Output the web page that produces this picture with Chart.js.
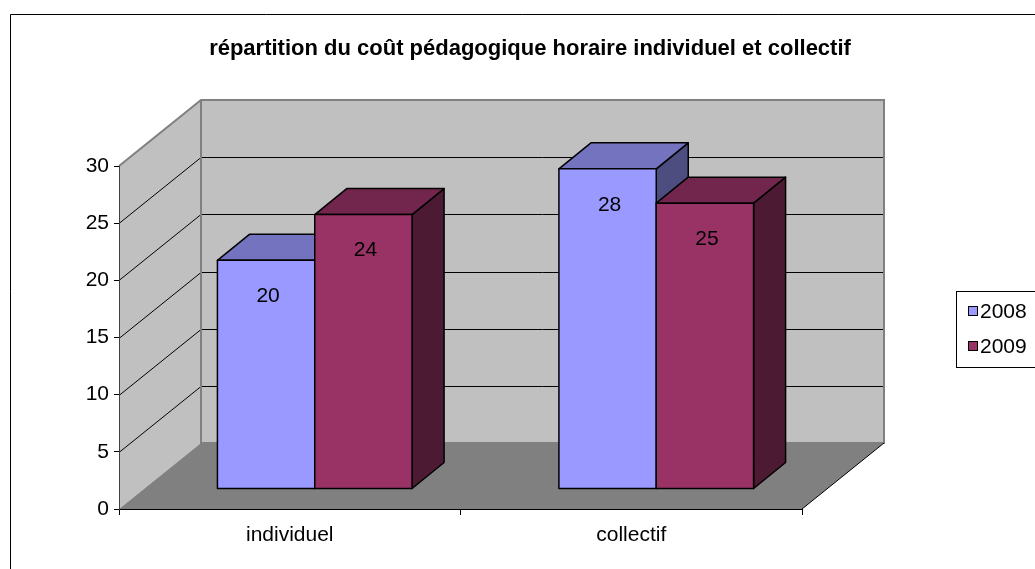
<!DOCTYPE html>
<html>
<head>
<meta charset="utf-8">
<script src="https://cdn.jsdelivr.net/npm/chart.js@4"></script>
<style>
  html, body { margin: 0; padding: 0; background: #fff; }
  #wrap { width: 1035px; height: 569px; position: relative; }
</style>
</head>
<body>
<div id="wrap"><canvas id="myChart" width="1035" height="569"></canvas></div>
<script>
var categories = ['individuel', 'collectif'];
var years = ['2008', '2009'];
var values2008 = [20, 28];
var values2009 = [24, 25];
var yTicks = [0, 5, 10, 15, 20, 25, 30];
var chartTitle = 'répartition du coût pédagogique horaire individuel et collectif';

// 3D look: full depth of the box and the depth of the bars inside it
var WALL_DX = 82, WALL_DY = -66;
var BAR_OFF_DX = 25, BAR_OFF_DY = -20;
var BAR_DX = 32, BAR_DY = -26;
var FONT = '"Liberation Sans", Arial, sans-serif';

var faces = [
    { front: '#9999FF', top: '#7373BF', side: '#4D4D80' },
    { front: '#993366', top: '#73264D', side: '#4D1A33' }
];

function poly(ctx, pts, fill, stroke, lw) {
    ctx.beginPath();
    ctx.moveTo(pts[0][0], pts[0][1]);
    for (var i = 1; i < pts.length; i++) ctx.lineTo(pts[i][0], pts[i][1]);
    ctx.closePath();
    if (fill) { ctx.fillStyle = fill; ctx.fill(); }
    if (stroke) { ctx.strokeStyle = stroke; ctx.lineWidth = lw || 1; ctx.stroke(); }
}

var box3d = {
    id: 'box3d',
    beforeDraw: function (chart) {
        var ctx = chart.ctx, a = chart.chartArea, ys = chart.scales.y;
        var L = a.left, R = a.right, T = a.top, B = a.bottom;
        ctx.save();
        // outer frame
        ctx.strokeStyle = '#000';
        ctx.lineWidth = 1;
        ctx.beginPath();
        ctx.moveTo(10.5, 569);
        ctx.lineTo(10.5, 14.5);
        ctx.lineTo(1035, 14.5);
        ctx.stroke();

        // title
        ctx.fillStyle = '#000';
        ctx.font = 'bold 22px ' + FONT;
        ctx.textAlign = 'center';
        ctx.textBaseline = 'middle';
        ctx.fillText(chartTitle, 530, 49);

        // back wall
        poly(ctx, [[L + WALL_DX, T + WALL_DY], [R + WALL_DX, T + WALL_DY], [R + WALL_DX, B + WALL_DY], [L + WALL_DX, B + WALL_DY]], '#C0C0C0');
        // left wall
        poly(ctx, [[L, B], [L, T], [L + WALL_DX, T + WALL_DY], [L + WALL_DX, B + WALL_DY]], '#C0C0C0');
        // floor
        poly(ctx, [[L, B], [L + WALL_DX, B + WALL_DY], [R + WALL_DX, B + WALL_DY], [R, B]], '#808080');

        // gridlines
        ctx.strokeStyle = '#000';
        ctx.lineWidth = 1;
        yTicks.forEach(function (v) {
            if (v === 0 || v === 30) return;
            var y = Math.round(ys.getPixelForValue(v)) + 0.5;
            ctx.beginPath();
            ctx.moveTo(L, y);
            ctx.lineTo(L + WALL_DX, y + WALL_DY);
            ctx.lineTo(R + WALL_DX, y + WALL_DY);
            ctx.stroke();
        });

        // wall outlines
        ctx.strokeStyle = '#808080';
        ctx.lineWidth = 2;
        ctx.beginPath();
        ctx.moveTo(L, T);
        ctx.lineTo(L + WALL_DX, T + WALL_DY);
        ctx.lineTo(R + WALL_DX, T + WALL_DY);
        ctx.lineTo(R + WALL_DX, B + WALL_DY);
        ctx.lineTo(L + WALL_DX, B + WALL_DY);
        ctx.lineTo(L + WALL_DX, T + WALL_DY);
        ctx.stroke();
        ctx.strokeStyle = '#000';
        ctx.lineWidth = 1;
        ctx.beginPath();
        ctx.moveTo(R, B);
        ctx.lineTo(R + WALL_DX, B + WALL_DY);
        ctx.stroke();

        // legend
        ctx.strokeStyle = '#000';
        ctx.lineWidth = 1;
        ctx.fillStyle = '#fff';
        ctx.fillRect(956.5, 291.5, 90, 76);
        ctx.strokeRect(956.5, 291.5, 90, 76);
        ctx.font = '21px ' + FONT;
        ctx.textAlign = 'left';
        chart.data.datasets.forEach(function (ds, i) {
            var cy = 311 + i * 35;
            ctx.fillStyle = faces[i].front;
            ctx.fillRect(968.5, cy - 4.5, 9, 9);
            ctx.strokeRect(968.5, cy - 4.5, 9, 9);
            ctx.fillStyle = '#000';
            ctx.fillText(ds.label, 980, cy + 1);
        });
        ctx.restore();
    },
    afterDatasetsDraw: function (chart) {
        var ctx = chart.ctx;
        ctx.save();
        ctx.lineJoin = 'round';
        for (var c = 0; c < categories.length; c++) {
            chart.data.datasets.forEach(function (ds, i) {
                var el = chart.getDatasetMeta(i).data[c];
                var p = el.getProps(['x', 'y', 'base', 'width'], true);
                var x0 = p.x - p.width / 2 + BAR_OFF_DX, x1 = p.x + p.width / 2 + BAR_OFF_DX;
                var yt = p.y + BAR_OFF_DY, yb = p.base + BAR_OFF_DY;
                var f = faces[i];
                // side
                poly(ctx, [[x1, yt], [x1 + BAR_DX, yt + BAR_DY], [x1 + BAR_DX, yb + BAR_DY], [x1, yb]], f.side, '#000', 1.5);
                // top
                poly(ctx, [[x0, yt], [x0 + BAR_DX, yt + BAR_DY], [x1 + BAR_DX, yt + BAR_DY], [x1, yt]], f.top, '#000', 1.5);
                // front
                poly(ctx, [[x0, yt], [x1, yt], [x1, yb], [x0, yb]], f.front, '#000', 1.5);
            });
        }
        // value labels
        ctx.fillStyle = '#000';
        ctx.font = '21px ' + FONT;
        ctx.textAlign = 'center';
        ctx.textBaseline = 'middle';
        chart.data.datasets.forEach(function (ds, i) {
            chart.getDatasetMeta(i).data.forEach(function (el, c) {
                var p = el.getProps(['x', 'y'], true);
                ctx.fillText(String(ds.data[c]), p.x + BAR_OFF_DX + 2, p.y + BAR_OFF_DY + 36);
            });
        });
        ctx.restore();
    }
};

var ctx = document.getElementById('myChart').getContext('2d');
var myChart = new Chart(ctx, {
    type: 'bar',
    data: {
        labels: categories,
        datasets: [{
            label: years[0],
            data: values2008,
            backgroundColor: 'rgba(0,0,0,0)',
            borderWidth: 0
        }, {
            label: years[1],
            data: values2009,
            backgroundColor: 'rgba(0,0,0,0)',
            borderWidth: 0
        }]
    },
    options: {
        responsive: false,
        animation: false,
        events: [],
        layout: { padding: { top: 166, right: 233, left: 0, bottom: 0 } },
        categoryPercentage: 0.57,
        barPercentage: 1,
        plugins: {
            legend: { display: false },
            title: { display: false },
            tooltip: { enabled: false }
        },
        scales: {
            x: {
                afterFit: function (s) { s.height = 60; },
                grid: { drawOnChartArea: false, tickLength: 6, tickColor: '#000', offset: true },
                border: { display: true, color: '#000', width: 1 },
                ticks: { color: '#000', padding: 8, font: { family: FONT, size: 21 } }
            },
            y: {
                min: 0,
                max: 30,
                afterFit: function (s) { s.width = 119; },
                grid: { drawOnChartArea: false, tickLength: 5, tickColor: '#000' },
                border: { display: true, color: '#404040', width: 1 },
                ticks: { stepSize: 5, color: '#000', padding: 5, font: { family: FONT, size: 21 } }
            }
        }
    },
    plugins: [box3d]
});
</script>
</body>
</html>
